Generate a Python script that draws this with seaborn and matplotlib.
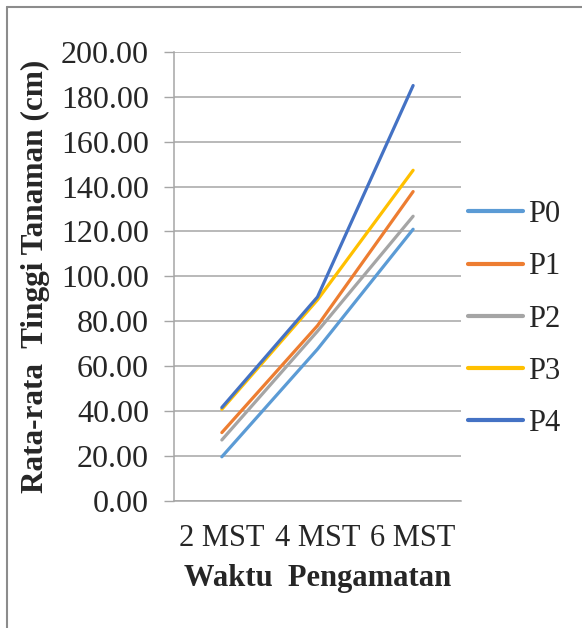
import matplotlib
matplotlib.use("Agg")
import matplotlib.pyplot as plt
from matplotlib.lines import Line2D
import pandas as pd
import seaborn as sns

# Observation times and mean plant height (cm) per treatment
waktu = ["2 MST", "4 MST", "6 MST"]
p0 = [19.5, 67.5, 121.0]
p1 = [30.3, 78.0, 137.8]
p2 = [27.0, 75.5, 126.8]
p3 = [40.7, 89.5, 147.3]
p4 = [41.5, 90.8, 185.1]
perlakuan = ["P0", "P1", "P2", "P3", "P4"]
warna = ["#5B9BD5", "#ED7D31", "#A5A5A5", "#FFC000", "#4472C4"]
y_ticks = [0, 20, 40, 60, 80, 100, 120, 140, 160, 180, 200]

rows = []
for name, vals in zip(perlakuan, [p0, p1, p2, p3, p4]):
    for w, v in zip(waktu, vals):
        rows.append({"Waktu": w, "Tinggi": v, "Perlakuan": name})
df = pd.DataFrame(rows)

sns.set_style("white")
plt.rcParams["font.family"] = ["Liberation Serif", "DejaVu Serif"]

fig = plt.figure(figsize=(5.82, 6.28), dpi=100)
ax = fig.add_axes([0.299, 0.203, 0.493, 0.714])

sns.lineplot(data=df, x="Waktu", y="Tinggi", hue="Perlakuan",
             palette=dict(zip(perlakuan, warna)), linewidth=2.3,
             sort=False, ax=ax)

ax.set_xlim(-0.5, 2.5)
ax.set_ylim(0, 200)
ax.set_yticks(y_ticks)
ax.set_yticklabels([f"{t:.2f}" for t in y_ticks], fontsize=23)
ax.tick_params(axis="x", labelsize=22, length=0, pad=17)
ax.tick_params(axis="y", length=7, width=1, color="#A6A6A6", direction="out",
               pad=11, left=True)
ax.grid(axis="y", color="#A6A6A6", linewidth=1.1)
ax.grid(axis="x", visible=False)
ax.set_axisbelow(True)
for s in ["top", "right"]:
    ax.spines[s].set_visible(False)
for s in ["left", "bottom"]:
    ax.spines[s].set_color("#A6A6A6")
    ax.spines[s].set_linewidth(1.1)

ax.set_xlabel("Waktu  Pengamatan", fontsize=22, fontweight="bold", labelpad=8)
ax.set_ylabel("Rata-rata  Tinggi Tanaman (cm)", fontsize=22.5, fontweight="bold",
              labelpad=8)

leg = ax.legend(loc="center left", bbox_to_anchor=(468 / 582, 1 - 319 / 628),
                bbox_transform=fig.transFigure, frameon=False, fontsize=22,
                borderpad=0, borderaxespad=0,
                handlelength=1.8, handletextpad=0.15, labelspacing=0.76)
for h in leg.get_lines():
    h.set_linewidth(3)

# outer frame of the chart area
fig.add_artist(Line2D([7 / 582, 1.0], [1 - 7 / 628, 1 - 7 / 628],
                      transform=fig.transFigure, color="#8C8C8C", linewidth=1.5))
fig.add_artist(Line2D([7 / 582, 7 / 582], [0.0, 1 - 7 / 628],
                      transform=fig.transFigure, color="#8C8C8C", linewidth=1.5))

fig.savefig("out.png", dpi=100, facecolor="white")
